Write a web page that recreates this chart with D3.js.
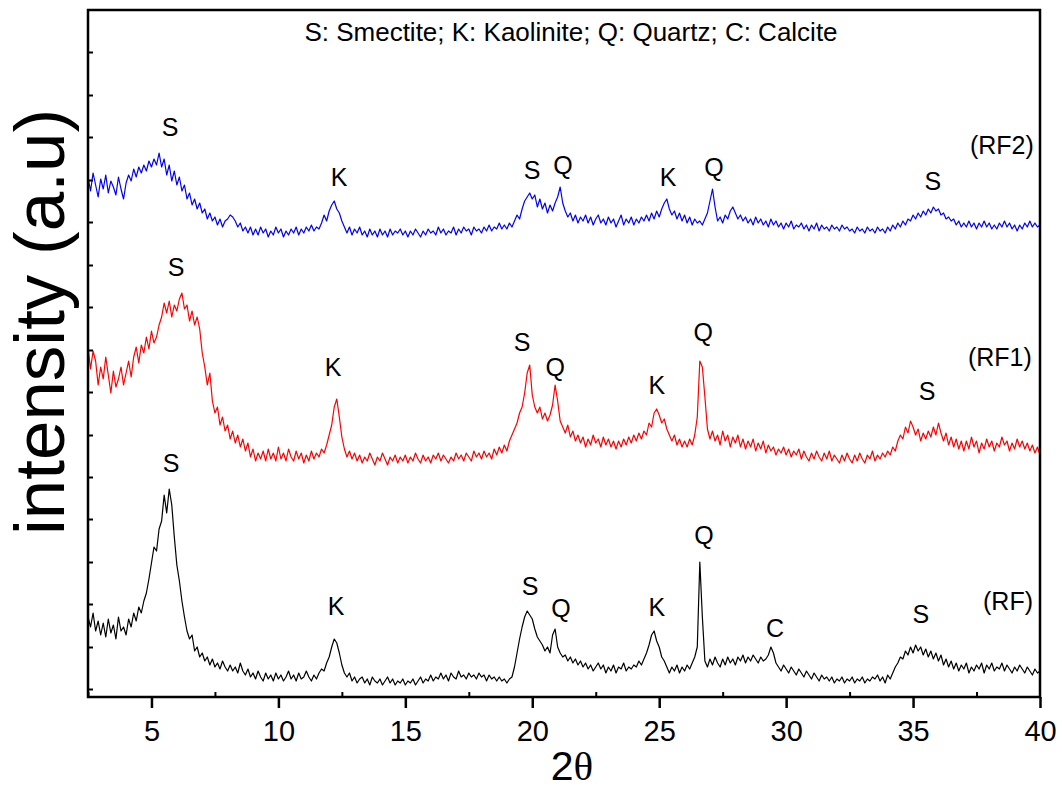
<!DOCTYPE html>
<html lang="en">
<head>
<meta charset="UTF-8">
<title>XRD patterns RF, RF1, RF2</title>
<script src="https://d3js.org/d3.v7.min.js"></script>
<style>
  body { margin: 0; background: #fff; }
  text { font-family: "Liberation Sans", Arial, sans-serif; fill: #000; }
</style>
</head>
<body>
<div id="chart"></div>
<script>
// 2theta grid: 2.5 .. 40, step 0.1
const thetaStart = 2.5;
const thetaStep = 0.1;

// intensities (a.u.), stacked as drawn
const rf = [
80,70,84,66,76,62,74,60,78,64,72,58,80,66,70,62,78,70,84,76,90,84,96,104,118,134,150,146,168,176,
202,184,208,192,160,132,116,96,80,66,58,62,46,50,40,44,36,40,32,38,30,34,28,36,30,26,32,26,30,24,
34,26,22,28,20,24,18,26,20,16,24,18,22,16,24,18,22,16,20,26,18,22,16,24,18,20,26,20,16,22,
18,24,28,26,34,40,50,58,54,44,32,24,20,24,16,20,14,18,20,14,18,12,20,16,14,18,12,16,20,14,
18,12,16,14,18,12,16,14,18,12,16,20,14,18,16,22,16,20,18,24,18,22,16,24,20,18,26,20,22,18,
24,20,22,18,24,20,22,16,22,18,20,16,20,16,18,14,18,20,30,44,58,70,80,86,82,78,68,60,56,52,
46,50,44,62,68,50,44,40,42,36,40,34,38,32,36,30,34,28,32,26,30,34,28,32,24,30,26,32,24,30,
28,34,26,30,28,32,30,36,32,38,44,52,62,66,56,50,40,36,30,24,30,26,32,24,30,26,32,28,34,40,
50,135,80,36,30,38,32,40,34,30,38,32,40,34,38,32,40,36,42,34,40,36,42,38,34,40,36,38,42,50,
44,34,30,26,32,28,24,30,26,22,28,24,20,26,22,18,24,20,16,22,18,20,16,20,14,18,16,20,14,18,
16,20,14,18,16,20,14,18,16,20,18,22,16,20,14,22,18,24,30,34,40,38,46,42,50,44,52,46,50,42,
48,40,46,38,44,36,42,32,38,30,36,28,34,26,32,28,34,24,30,26,32,28,34,24,32,28,34,26,30,28,
34,26,32,28,24,30,26,32,28,24,30,26,22,28,24,26
];

const rf1 = [
350,328,346,336,312,330,318,340,322,304,326,310,318,330,312,324,336,320,340,350,334,352,344,360,348,366,354,360,372,380,
394,384,396,380,392,386,398,404,388,392,376,386,372,380,368,344,330,312,324,296,284,290,272,280,266,272,258,266,254,262,
250,258,246,254,240,248,236,244,238,246,236,248,238,244,236,250,238,244,236,248,240,236,246,238,244,234,242,236,246,238,
244,240,248,244,252,262,272,290,298,280,260,248,240,246,238,244,236,242,234,240,236,244,238,232,240,236,244,238,232,240,
236,242,234,240,236,242,234,240,236,244,238,234,242,236,240,234,242,238,244,236,242,238,234,240,236,244,238,242,236,244,
240,236,246,240,244,238,246,240,244,238,248,242,250,244,252,246,256,262,268,274,284,290,304,324,332,302,290,284,290,278,
284,276,282,292,312,296,276,270,264,272,260,266,256,262,254,260,250,258,252,262,254,258,250,260,252,258,250,256,248,256,
250,258,252,260,254,262,256,264,258,266,262,274,270,284,288,282,274,278,268,262,256,262,252,258,250,256,250,258,252,262,
280,336,330,300,268,258,266,256,262,252,266,256,262,250,260,254,262,250,258,248,256,250,258,246,254,248,256,244,252,246,
250,242,248,244,250,242,248,240,246,242,248,238,246,240,236,244,238,246,240,236,244,238,246,236,242,238,234,242,236,244,
238,234,242,236,244,238,234,242,238,246,236,242,238,244,240,246,242,250,246,256,262,258,270,264,276,270,262,268,256,264,
258,266,260,270,262,274,264,256,264,252,260,250,258,248,256,246,256,248,260,250,256,244,254,248,258,250,256,246,254,250,
260,252,256,246,254,248,258,250,256,248,254,246,252,244,250,242
];

const rf2 = [
520,506,524,512,500,518,508,522,504,516,510,502,520,508,498,514,522,516,528,520,530,524,532,526,536,530,538,532,544,530,
538,522,532,516,526,512,520,506,512,498,504,492,498,488,494,484,488,478,484,476,480,472,478,470,476,478,482,480,476,470,
474,466,470,464,470,462,468,462,470,464,468,460,466,462,470,464,468,460,466,462,468,464,470,462,468,464,470,466,472,466,
470,468,474,482,476,486,492,496,488,484,476,470,464,470,462,468,464,470,462,466,460,468,462,466,460,468,462,466,460,468,
462,466,464,468,462,466,460,466,462,468,464,460,466,462,468,464,466,462,470,464,468,462,466,464,470,462,468,464,470,466,
468,462,470,466,468,464,470,466,472,466,470,468,474,468,472,468,474,470,476,482,478,488,496,500,504,498,502,490,498,488,
494,484,492,486,494,500,510,494,486,480,484,476,482,474,480,476,482,474,480,472,478,482,474,478,472,480,474,478,470,476,
482,472,478,474,480,472,478,474,480,476,482,476,484,478,486,480,488,494,498,488,482,486,478,484,476,482,474,480,472,478,
474,476,472,478,484,496,508,490,476,480,474,482,478,486,490,484,478,482,476,480,474,478,472,480,474,478,472,476,470,478,
472,476,470,474,468,474,470,476,468,472,470,474,468,472,466,472,468,474,466,472,468,470,466,472,468,470,466,472,468,470,
466,468,464,470,466,468,464,470,466,468,464,470,466,468,464,470,466,472,468,474,470,476,472,478,476,482,478,484,480,486,
482,488,484,490,486,488,482,484,478,480,476,478,472,476,470,474,470,476,470,474,468,474,470,476,470,474,468,472,468,474,
470,476,470,474,468,472,466,472,468,474,470,476,470,474,470,472
];

const seriesNames = ["(RF)", "(RF1)", "(RF2)"];
const seriesColors = ["#000000", "#ff0000", "#0000ff"];

// tag position of each sample name [2theta, intensity]
const nameX = [38.74, 38.42, 38.5];
const nameY = [96, 340, 552];

// phase labels over the peaks
const peakText = ["S","K","S","Q","K","Q","C","S",
                  "S","K","S","Q","K","Q","S",
                  "S","K","S","Q","K","Q","S"];
const peakX = [5.77,12.27,19.91,21.13,24.91,26.76,29.56,35.31,
               5.97,12.15,19.6,20.9,24.91,26.73,35.55,
               5.73,12.39,19.99,21.21,25.35,27.16,35.78];
const peakY = [234,91,111,89,90,162,69,83,
               430,330,355,330,312,365,306,
               570,520,527,532,520,530,516];

const xMajor = [5, 10, 15, 20, 25, 30, 35, 40];
const xMinor = [2.5, 7.5, 12.5, 17.5, 22.5, 27.5, 32.5, 37.5];
const yTicks = [8, 50, 93, 135, 178, 220, 262, 305, 347, 390, 432, 475, 517, 560, 602, 645];

const W = 1062, H = 789;
const margin = {top: 10, right: 22, bottom: 92, left: 88};

const svg = d3.select("#chart").append("svg")
  .attr("width", W).attr("height", H);

const x = d3.scaleLinear().domain([2.5, 40]).range([margin.left, W - margin.right]);
const y = d3.scaleLinear().domain([0, 687]).range([H - margin.bottom, margin.top]);

const line = d3.line()
  .x((d, i) => x(thetaStart + i * thetaStep))
  .y(d => y(d));

[rf, rf1, rf2].forEach((s, k) => {
  svg.append("path")
    .datum(s)
    .attr("fill", "none")
    .attr("stroke", seriesColors[k])
    .attr("stroke-width", 1.2)
    .attr("stroke-linejoin", "round")
    .attr("d", line);
});

// axes
const bottom = svg.append("g")
  .attr("transform", `translate(0,${H - margin.bottom})`)
  .call(d3.axisBottom(x).tickValues(xMajor).tickSize(11).tickPadding(12).tickFormat(d3.format("d")));
bottom.selectAll("text").style("font-size", "29px").attr("font-family", "Liberation Sans, Arial");
bottom.selectAll("line").attr("stroke-width", 2.5);
bottom.select(".domain").remove();

svg.append("g")
  .attr("transform", `translate(0,${H - margin.bottom})`)
  .call(d3.axisBottom(x).tickValues(xMinor).tickSize(-5).tickFormat(""))
  .call(g => g.select(".domain").remove())
  .selectAll("line").attr("stroke-width", 2);

svg.append("g")
  .attr("transform", `translate(${margin.left},0)`)
  .call(d3.axisLeft(y).tickValues(yTicks).tickSize(-5).tickFormat(""))
  .call(g => g.select(".domain").remove())
  .selectAll("line").attr("stroke-width", 2);

// frame
svg.append("rect")
  .attr("x", margin.left).attr("y", margin.top)
  .attr("width", W - margin.left - margin.right)
  .attr("height", H - margin.top - margin.bottom)
  .attr("fill", "none").attr("stroke", "#000").attr("stroke-width", 2.5);

// labels on the peaks
svg.append("g").selectAll("text")
  .data(peakText)
  .join("text")
  .attr("x", (d, i) => x(peakX[i]))
  .attr("y", (d, i) => y(peakY[i]))
  .attr("dy", "0.36em")
  .attr("text-anchor", "middle")
  .style("font-size", "25px")
  .text(d => d);

svg.append("g").selectAll("text")
  .data(seriesNames)
  .join("text")
  .attr("x", (d, i) => x(nameX[i]))
  .attr("y", (d, i) => y(nameY[i]))
  .attr("dy", "0.36em")
  .attr("text-anchor", "middle")
  .style("font-size", "25px")
  .text(d => d);

svg.append("text")
  .attr("x", 571).attr("y", 32).attr("dy", "0.36em")
  .attr("text-anchor", "middle")
  .style("font-size", "26px")
  .text("S: Smectite; K: Kaolinite; Q: Quartz; C: Calcite");

// axis titles
const xt = svg.append("text")
  .attr("x", 572).attr("y", 780)
  .attr("text-anchor", "middle")
  .style("font-size", "41px");
xt.append("tspan").text("2");
xt.append("tspan").style("font-family", "Liberation Serif, Times New Roman, serif").text("θ");

svg.append("text")
  .attr("transform", "translate(64,322) rotate(-90)")
  .attr("text-anchor", "middle")
  .style("font-size", "71px")
  .text("intensity (a.u)");
</script>
</body>
</html>
